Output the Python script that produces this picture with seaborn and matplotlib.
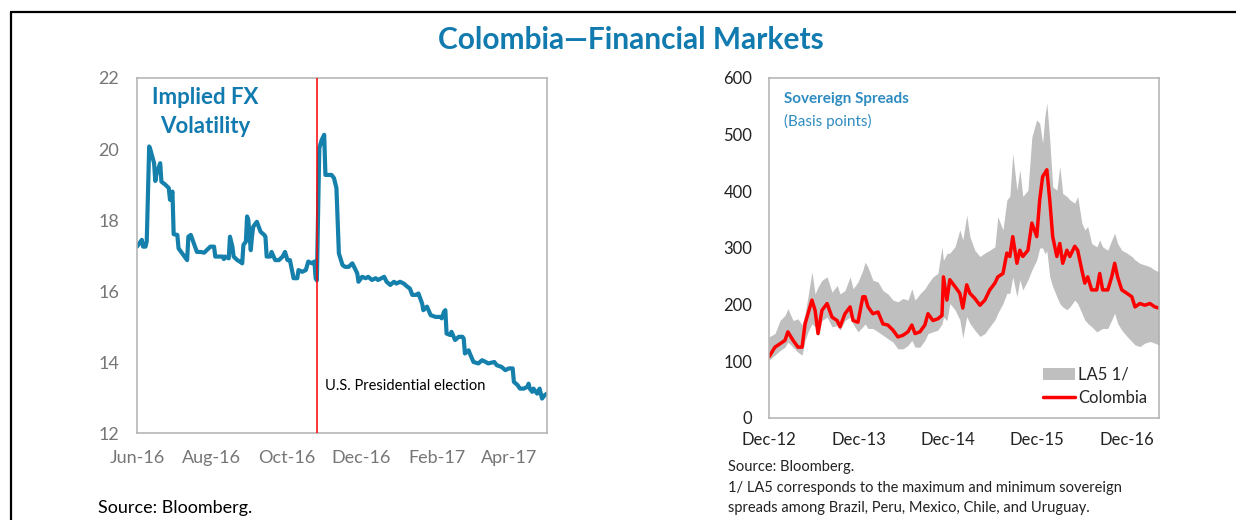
import matplotlib
matplotlib.use("Agg")
import matplotlib.pyplot as plt
import matplotlib.dates as mdates
from matplotlib.lines import Line2D
from matplotlib.patches import Patch
import pandas as pd
import seaborn as sns

# ---------------------------------------------------------------- data
# Implied FX volatility (percent)
vol_dates = [
    "2016-06-14", "2016-06-17", "2016-06-18", "2016-06-19", "2016-06-21", "2016-06-22",
    "2016-06-24", "2016-06-25", "2016-06-28", "2016-06-29", "2016-06-30", "2016-07-02",
    "2016-07-03", "2016-07-04", "2016-07-07", "2016-07-10", "2016-07-11", "2016-07-13",
    "2016-07-14", "2016-07-17", "2016-07-18", "2016-07-21", "2016-07-24", "2016-07-25",
    "2016-07-26", "2016-07-28", "2016-07-30", "2016-08-02", "2016-08-05", "2016-08-08",
    "2016-08-10", "2016-08-13", "2016-08-16", "2016-08-17", "2016-08-20", "2016-08-23",
    "2016-08-24", "2016-08-25", "2016-08-28", "2016-08-29", "2016-08-31", "2016-09-01",
    "2016-09-04", "2016-09-06", "2016-09-08", "2016-09-09", "2016-09-11", "2016-09-12",
    "2016-09-13", "2016-09-15", "2016-09-16", "2016-09-17", "2016-09-20", "2016-09-23",
    "2016-09-26", "2016-09-27", "2016-09-28", "2016-10-01", "2016-10-02", "2016-10-05",
    "2016-10-08", "2016-10-11", "2016-10-13", "2016-10-15", "2016-10-17", "2016-10-20",
    "2016-10-23", "2016-10-24", "2016-10-27", "2016-10-30", "2016-11-01", "2016-11-04",
    "2016-11-06", "2016-11-07", "2016-11-08", "2016-11-10", "2016-11-12", "2016-11-14",
    "2016-11-15", "2016-11-17", "2016-11-20", "2016-11-22", "2016-11-24", "2016-11-26",
    "2016-11-29", "2016-12-01", "2016-12-04", "2016-12-07", "2016-12-09", "2016-12-11",
    "2016-12-12", "2016-12-15", "2016-12-18", "2016-12-20", "2016-12-23", "2016-12-26",
    "2016-12-28", "2017-01-02", "2017-01-04", "2017-01-07", "2017-01-10", "2017-01-12",
    "2017-01-15", "2017-01-18", "2017-01-21", "2017-01-23", "2017-01-25", "2017-01-28",
    "2017-01-30", "2017-02-02", "2017-02-03", "2017-02-06", "2017-02-09", "2017-02-13",
    "2017-02-17", "2017-02-18", "2017-02-20", "2017-02-21", "2017-02-22", "2017-02-25",
    "2017-02-26", "2017-03-01", "2017-03-04", "2017-03-07", "2017-03-08", "2017-03-09",
    "2017-03-12", "2017-03-13", "2017-03-16", "2017-03-20", "2017-03-23", "2017-03-26",
    "2017-03-28", "2017-04-02", "2017-04-04", "2017-04-08", "2017-04-11", "2017-04-14",
    "2017-04-17", "2017-04-18", "2017-04-21", "2017-04-23", "2017-04-26", "2017-04-29",
    "2017-04-30", "2017-05-01", "2017-05-03", "2017-05-04", "2017-05-07", "2017-05-09",
    "2017-05-11", "2017-05-13", "2017-05-15",
]
vol_values = [
    17.25, 17.39, 17.44, 17.25, 17.25, 17.40,
    20.07, 19.98, 19.60, 19.10, 19.30, 19.50,
    19.60, 19.08, 19.00, 18.90, 18.57, 18.80,
    17.60, 17.58, 17.20, 17.06, 16.92, 16.87,
    17.53, 17.58, 17.39, 17.10, 17.10, 17.08,
    17.15, 17.25, 17.25, 16.97, 16.97, 16.97,
    16.90, 16.97, 16.92, 17.53, 17.25, 16.97,
    16.87, 16.83, 16.78, 17.30, 17.39, 18.10,
    18.00, 17.15, 17.53, 17.81, 17.95, 17.67,
    17.58, 17.53, 16.97, 16.97, 17.10, 16.87,
    16.87, 16.97, 17.10, 16.87, 16.87, 16.36,
    16.36, 16.59, 16.54, 16.59, 16.83, 16.78,
    16.83, 16.36, 16.30, 20.02, 20.26, 20.40,
    19.27, 19.27, 19.27, 19.18, 18.90, 17.06,
    16.73, 16.68, 16.68, 16.78, 16.64, 16.50,
    16.26, 16.40, 16.36, 16.40, 16.31, 16.36,
    16.31, 16.40, 16.26, 16.17, 16.26, 16.21,
    16.26, 16.21, 16.12, 16.07, 15.89, 15.89,
    15.93, 15.65, 15.46, 15.56, 15.32, 15.27,
    15.27, 15.23, 15.42, 15.46, 14.80, 14.76,
    14.85, 14.62, 14.71, 14.71, 14.66, 14.24,
    14.33, 14.24, 14.00, 13.96, 14.05, 14.00,
    13.96, 14.00, 13.91, 13.86, 13.77, 13.82,
    13.82, 13.44, 13.35, 13.25, 13.25, 13.30,
    13.39, 13.25, 13.16, 13.25, 13.11, 13.25,
    12.97, 13.06, 13.11,
]
vol_ticks = ["2016-06-14", "2016-08-14", "2016-10-14", "2016-12-14", "2017-02-14", "2017-04-14"]
vol_range = ["2016-06-14", "2017-05-15"]
election_date = "2016-11-08"
election_label = "U.S. Presidential election"

# Sovereign spreads (basis points)
spread_dates = [
    "2012-12-14", "2013-01-07", "2013-01-28", "2013-02-17", "2013-03-01", "2013-03-22",
    "2013-04-11", "2013-04-28", "2013-05-10", "2013-05-22", "2013-06-07", "2013-06-20",
    "2013-07-02", "2013-07-18", "2013-08-08", "2013-08-28", "2013-09-18", "2013-09-30",
    "2013-10-20", "2013-11-10", "2013-11-22", "2013-12-12", "2014-01-01", "2014-01-10",
    "2014-01-22", "2014-02-11", "2014-03-04", "2014-03-24", "2014-04-13", "2014-05-04",
    "2014-05-24", "2014-06-14", "2014-07-04", "2014-07-20", "2014-08-02", "2014-08-22",
    "2014-09-11", "2014-09-24", "2014-10-14", "2014-11-03", "2014-11-20", "2014-11-26",
    "2014-12-10", "2014-12-22", "2015-01-12", "2015-02-01", "2015-02-13", "2015-03-01",
    "2015-03-14", "2015-04-03", "2015-04-24", "2015-05-14", "2015-06-03", "2015-06-24",
    "2015-07-06", "2015-07-27", "2015-08-12", "2015-08-24", "2015-09-05", "2015-09-22",
    "2015-10-04", "2015-10-16", "2015-11-06", "2015-11-22", "2015-12-12", "2015-12-24",
    "2016-01-05", "2016-01-14", "2016-01-22", "2016-02-03", "2016-02-15", "2016-03-03",
    "2016-03-15", "2016-03-27", "2016-04-13", "2016-04-25", "2016-05-15", "2016-05-27",
    "2016-06-13", "2016-06-25", "2016-07-07", "2016-07-23", "2016-08-13", "2016-08-25",
    "2016-09-06", "2016-09-27", "2016-10-13", "2016-10-25", "2016-11-06", "2016-11-23",
    "2016-12-14", "2017-01-03", "2017-01-16", "2017-02-05", "2017-02-25", "2017-03-18",
    "2017-04-07", "2017-04-24",
]
la5_max = [
    143, 149, 172, 181, 193, 172,
    175, 164, 184, 214, 258, 219,
    231, 243, 249, 222, 234, 219,
    225, 249, 228, 240, 261, 275,
    266, 243, 240, 225, 219, 208,
    205, 211, 208, 228, 208, 219,
    228, 237, 249, 255, 302, 278,
    290, 291, 302, 332, 314, 358,
    320, 296, 285, 291, 296, 302,
    355, 332, 385, 391, 467, 402,
    438, 391, 402, 496, 526, 520,
    485, 532, 556, 491, 408, 402,
    444, 396, 391, 385, 379, 391,
    344, 332, 338, 308, 302, 314,
    302, 296, 314, 326, 308, 296,
    291, 285, 279, 273, 270, 267,
    261, 258,
]
la5_min = [
    102, 111, 119, 125, 134, 125,
    116, 111, 137, 152, 166, 161,
    145, 172, 178, 161, 163, 155,
    172, 178, 166, 152, 161, 166,
    158, 158, 152, 146, 140, 134,
    122, 122, 128, 137, 125, 125,
    137, 149, 152, 155, 166, 178,
    172, 202, 191, 173, 141, 179,
    167, 155, 144, 149, 161, 173,
    185, 202, 220, 220, 249, 214,
    244, 226, 244, 261, 279, 300,
    300, 290, 295, 249, 232, 214,
    202, 196, 191, 196, 208, 202,
    185, 173, 167, 161, 152, 155,
    158, 158, 173, 185, 167, 155,
    144, 135, 129, 126, 132, 135,
    132, 129,
]
colombia = [
    108, 125, 131, 137, 152, 137,
    125, 125, 166, 184, 208, 190,
    149, 190, 202, 178, 172, 161,
    184, 196, 172, 169, 214, 214,
    196, 184, 187, 166, 164, 155,
    143, 146, 152, 164, 149, 152,
    164, 184, 172, 175, 181, 249,
    208, 244, 232, 220, 194, 235,
    220, 211, 199, 208, 226, 238,
    249, 255, 291, 285, 320, 273,
    296, 285, 296, 344, 320, 385,
    426, 432, 438, 385, 320, 285,
    308, 273, 296, 285, 303, 296,
    261, 238, 249, 226, 226, 255,
    226, 226, 249, 273, 249, 226,
    220, 214, 196, 202, 199, 202,
    196, 194,
]
spread_ticks = ["2012-12-14", "2013-12-14", "2014-12-14", "2015-12-14", "2016-12-14"]
spread_range = ["2012-12-14", "2017-04-24"]

# ---------------------------------------------------------------- style
sns.set_theme(style="white")
plt.rcParams["font.family"] = ["Lato", "DejaVu Sans"]

TEAL = "#117aaf"
LINE_BLUE = "#1580ab"
LIGHT_BLUE = "#2e8bc0"
BAND_GRAY = "#bfbfbf"
RED = "#ff0000"
SPINE = "#b0b0b0"

fig = plt.figure(figsize=(12.36, 5.2), dpi=100)
ax1 = fig.add_axes([0.1108, 0.1673, 0.3317, 0.6827])
ax2 = fig.add_axes([0.6222, 0.1962, 0.3155, 0.6538])

# ---------------------------------------------------------------- left panel
vol = pd.DataFrame({"date": pd.to_datetime(vol_dates), "value": vol_values})
sns.lineplot(data=vol, x="date", y="value", ax=ax1, color=LINE_BLUE,
             linewidth=3.0, solid_joinstyle="round")
election = pd.Timestamp(election_date)
ax1.axvline(election, color=RED, linewidth=1.1, zorder=3)
ax1.annotate(election_label, xy=(election, 13.32), xytext=(6, 0),
             textcoords="offset points", va="center", ha="left",
             fontsize=10.5, color="black")

ax1.set_xlim(pd.to_datetime(vol_range))
ax1.set_ylim(12, 22)
ax1.set_yticks([12, 14, 16, 18, 20, 22])
ax1.set_xticks(pd.to_datetime(vol_ticks))
ax1.xaxis.set_major_formatter(mdates.DateFormatter("%b-%y"))
ax1.set_xlabel("")
ax1.set_ylabel("")
ax1.tick_params(axis="x", direction="in", length=7, width=1, color=SPINE,
                pad=12, labelsize=13, labelcolor="#767676")
ax1.tick_params(axis="y", length=0, pad=13, labelsize=13, labelcolor="#767676")
for s in ax1.spines.values():
    s.set_color(SPINE)
    s.set_linewidth(1.1)

ax1.text(0.166, 0.905, "Implied FX\nVolatility", transform=ax1.transAxes,
         ha="center", va="center", fontsize=16, fontweight="bold",
         color=TEAL, linespacing=1.45)

# ---------------------------------------------------------------- right panel
sp = pd.DataFrame({
    "date": pd.to_datetime(spread_dates),
    "la5_max": la5_max,
    "la5_min": la5_min,
    "colombia": colombia,
})
ax2.fill_between(sp["date"], sp["la5_min"], sp["la5_max"], color=BAND_GRAY,
                 linewidth=0)
sns.lineplot(data=sp, x="date", y="colombia", ax=ax2, color=RED, linewidth=2.5)

ax2.set_xlim(pd.to_datetime(spread_range))
ax2.set_ylim(0, 600)
ax2.set_yticks(range(0, 601, 100))
ax2.set_xticks(pd.to_datetime(spread_ticks))
ax2.xaxis.set_major_formatter(mdates.DateFormatter("%b-%y"))
ax2.set_xlabel("")
ax2.set_ylabel("")
ax2.tick_params(axis="x", direction="in", length=7, width=1, color=SPINE,
                pad=10, labelsize=12, labelcolor="#222222")
ax2.tick_params(axis="y", length=0, pad=12, labelsize=12, labelcolor="#222222")
for s in ax2.spines.values():
    s.set_color(SPINE)
    s.set_linewidth(1.1)

ax2.text(0.038, 0.938, "Sovereign Spreads", transform=ax2.transAxes,
         ha="left", va="center", fontsize=11, fontweight="bold", color=LIGHT_BLUE)
ax2.text(0.038, 0.8735, "(Basis points)", transform=ax2.transAxes,
         ha="left", va="center", fontsize=11, color=LIGHT_BLUE)

handles = [Patch(facecolor=BAND_GRAY, edgecolor="none", label="LA5 1/"),
           Line2D([0], [0], color=RED, linewidth=2.5, label="Colombia")]
ax2.legend(handles=handles, loc="lower right", frameon=False, fontsize=12,
           handlelength=1.9, handletextpad=0.2, labelspacing=0.45,
           borderaxespad=0.3)

# ---------------------------------------------------------------- figure text
fig.text(0.5105, 0.923, "Colombia\u2014Financial Markets", ha="center",
         va="center", fontsize=21.5, fontweight="bold", color=TEAL)

fig.text(0.0793, 0.0231, "Source: Bloomberg.", ha="left", va="center",
         fontsize=13, color="black")

fig.text(0.589, 0.102, "Source: Bloomberg.", ha="left", va="center",
         fontsize=10.5, color="#222222")
fig.text(0.589, 0.0615, "1/ LA5 corresponds to the maximum and minimum sovereign",
         ha="left", va="center", fontsize=10.5, color="#222222")
fig.text(0.589, 0.0231, "spreads among Brazil, Peru, Mexico, Chile, and Uruguay.",
         ha="left", va="center", fontsize=10.5, color="#222222")

# frame around the panel
fig.add_artist(Line2D([11 / 1236, 1.0], [1 - 12 / 520, 1 - 12 / 520],
                      transform=fig.transFigure, color="black", linewidth=1.6))
fig.add_artist(Line2D([11 / 1236, 11 / 1236], [0.0, 1 - 12 / 520],
                      transform=fig.transFigure, color="black", linewidth=1.6))

fig.savefig("out.png", dpi=100)
